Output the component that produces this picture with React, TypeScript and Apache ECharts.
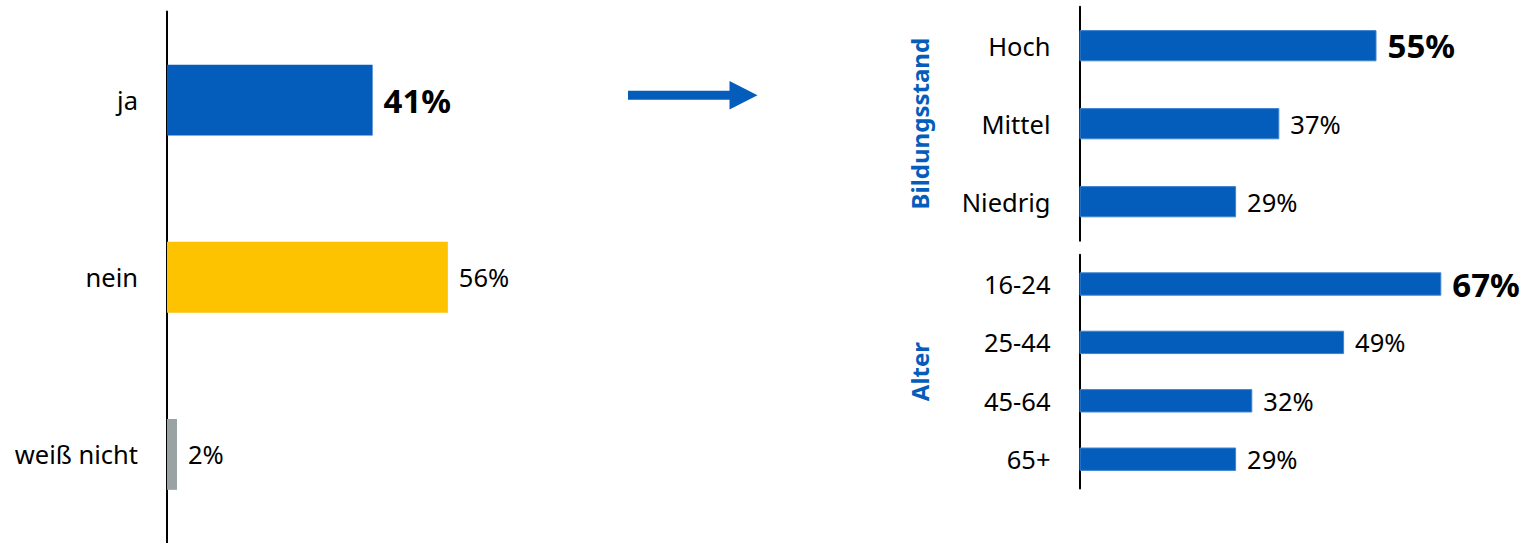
import React, { useEffect, useRef } from "react";
import * as echarts from "echarts";

// ---- Data ----
const answerCategories = ["ja", "nein", "weiß nicht"];
const answerValues = [41, 56, 2];
const answerColors = ["#045DBB", "#FDC300", "#9AA3A3"];
const answerBold = [true, false, false];

const educationTitle = "Bildungsstand";
const educationCategories = ["Hoch", "Mittel", "Niedrig"];
const educationValues = [55, 37, 29];
const educationBold = [true, false, false];

const ageTitle = "Alter";
const ageCategories = ["16-24", "25-44", "45-64", "65+"];
const ageValues = [67, 49, 32, 29];
const ageBold = [true, false, false, false];

const BLUE = "#045DBB";
const FONT = "'Noto Sans', 'Open Sans', sans-serif";

function buildData(values: number[], colors: string[], bold: boolean[], border?: string) {
  return values.map((v, i) => ({
    value: v,
    itemStyle: border
      ? { color: colors[i], borderColor: border, borderWidth: 1 }
      : { color: colors[i] },
    label: bold[i]
      ? { fontWeight: "bold" as const, fontSize: 33 }
      : undefined,
  }));
}

export default function App() {
  const ref = useRef<HTMLDivElement>(null);

  useEffect(() => {
    if (!ref.current) return;
    const chart = echarts.init(ref.current, undefined, { renderer: "svg" });

    const yAxisBase = (gridIndex: number, data: string[]) => ({
      type: "category" as const,
      gridIndex,
      data,
      inverse: true,
      axisLine: { show: true, lineStyle: { color: "#000", width: 2 } },
      axisTick: { show: false },
      splitLine: { show: false },
      axisLabel: {
        margin: 29,
        color: "#000",
        fontSize: 25.5,
        fontFamily: FONT,
      },
    });

    const labelBase = {
      show: true,
      position: "right" as const,
      distance: 11,
      formatter: "{c}%",
      color: "#000",
      fontSize: 25.5,
      fontFamily: FONT,
    };

    chart.setOption({
      animation: false,
      backgroundColor: "#fff",
      grid: [
        { left: 167, top: 11.5, width: 501.5, height: 535.5, containLabel: false },
        { left: 1079.5, top: 6.7, width: 432, height: 234, containLabel: false },
        { left: 1079.5, top: 254.8, width: 432, height: 233.6, containLabel: false },
      ],
      xAxis: [
        { type: "value", gridIndex: 0, min: 0, max: 100, show: false },
        { type: "value", gridIndex: 1, min: 0, max: 80, show: false },
        { type: "value", gridIndex: 2, min: 0, max: 80, show: false },
      ],
      yAxis: [
        yAxisBase(0, answerCategories),
        yAxisBase(1, educationCategories),
        yAxisBase(2, ageCategories),
      ],
      series: [
        {
          type: "bar",
          xAxisIndex: 0,
          yAxisIndex: 0,
          barCategoryGap: "60%",
          data: buildData(answerValues, answerColors, answerBold),
          label: labelBase,
        },
        {
          type: "bar",
          xAxisIndex: 1,
          yAxisIndex: 1,
          barCategoryGap: "60%",
          data: buildData(
            educationValues,
            educationValues.map(() => BLUE),
            educationBold,
            "#3F83D2"
          ),
          label: labelBase,
        },
        {
          type: "bar",
          xAxisIndex: 2,
          yAxisIndex: 2,
          barCategoryGap: "60%",
          data: buildData(
            ageValues,
            ageValues.map(() => BLUE),
            ageBold,
            "#3F83D2"
          ),
          label: labelBase,
        },
      ],
      graphic: [
        {
          type: "polygon",
          silent: true,
          shape: {
            points: [
              [628, 90.8],
              [729.5, 90.8],
              [729.5, 81],
              [757.5, 95.3],
              [729.5, 109.5],
              [729.5, 99.8],
              [628, 99.8],
            ],
          },
          style: { fill: BLUE },
        },
        {
          type: "text",
          silent: true,
          x: 919.5,
          y: 123.7,
          rotation: Math.PI / 2,
          style: {
            text: educationTitle,
            fill: BLUE,
            font: `bold 24px ${FONT}`,
            align: "center",
            verticalAlign: "middle",
            textAlign: "center",
            textVerticalAlign: "middle",
          },
        },
        {
          type: "text",
          silent: true,
          x: 919.5,
          y: 371.6,
          rotation: Math.PI / 2,
          style: {
            text: ageTitle,
            fill: BLUE,
            font: `bold 24px ${FONT}`,
            align: "center",
            verticalAlign: "middle",
            textAlign: "center",
            textVerticalAlign: "middle",
          },
        },
      ],
    });

    return () => {
      chart.dispose();
    };
  }, []);

  return (
    <div
      ref={ref}
      style={{
        position: "fixed",
        left: 0,
        top: 0,
        width: 1525,
        height: 543,
        background: "#fff",
      }}
    />
  );
}
